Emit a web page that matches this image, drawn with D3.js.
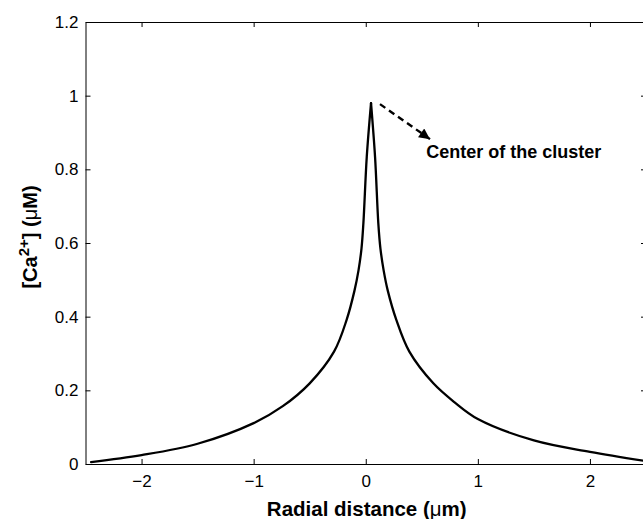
<!DOCTYPE html>
<html>
<head>
<meta charset="utf-8">
<script src="https://cdn.jsdelivr.net/npm/d3@7"></script>
<style>
  html, body { margin: 0; padding: 0; background: #fff; }
  svg { display: block; font-family: "Liberation Sans", Arial, Helvetica, sans-serif; }
</style>
</head>
<body>
<div id="chart"></div>
<script>
// radial Ca2+ profile around a channel cluster

// ── data ──
const radialDistance = [-2.45, -2.0, -1.5, -1.0, -0.74, -0.5, -0.283, -0.17, -0.101, -0.065, -0.038, -0.021, 0.009,
  0.047, 0.083, 0.112, 0.131, 0.16, 0.197, 0.272, 0.389, 0.603, 0.79, 1.0, 1.5, 2.0, 2.5];
const calcium = [0.005, 0.024, 0.055, 0.111, 0.157, 0.219, 0.305, 0.392, 0.470, 0.525, 0.585, 0.654, 0.834,
  0.98, 0.834, 0.654, 0.585, 0.525, 0.470, 0.392, 0.305, 0.219, 0.168, 0.122, 0.064, 0.033, 0.008];
const xTicks = [-2, -1, 0, 1, 2];
const yTicks = [0, 0.2, 0.4, 0.6, 0.8, 1, 1.2];
const arrowFrom = [0.127, 0.977];
const arrowTo = [0.573, 0.882];
const noteAt = [0.539, 0.83];
const noteText = "Center of the cluster";

const width = 643, height = 519;
const m = { left: 85.5, right: 646, top: 22, bottom: 464 };

const svg = d3.select("#chart").append("svg")
  .attr("width", width)
  .attr("height", height);

const x = d3.scaleLinear().domain([-2.5, 2.5]).range([m.left, m.right]);
const y = d3.scaleLinear().domain([0, 1.2]).range([m.bottom, m.top]);

const fmt = d => (d < 0 ? "\u2212" + Math.abs(d) : String(d));

// ── axes (MATLAB style box, ticks inward) ──
const gx = svg.append("g")
  .attr("transform", `translate(0,${m.bottom})`)
  .call(d3.axisBottom(x).tickValues(xTicks).tickFormat(fmt)
    .tickSizeInner(-5).tickSizeOuter(0).tickPadding(11));

const gy = svg.append("g")
  .attr("transform", `translate(${m.left},0)`)
  .call(d3.axisLeft(y).tickValues(yTicks).tickFormat(d => String(d))
    .tickSizeInner(-5).tickSizeOuter(0).tickPadding(7));

const gt = svg.append("g")
  .attr("transform", `translate(0,${m.top})`)
  .call(d3.axisTop(x).tickValues(xTicks).tickFormat("")
    .tickSizeInner(-5).tickSizeOuter(0));

const gr = svg.append("g")
  .attr("transform", `translate(${m.right},0)`)
  .call(d3.axisRight(y).tickValues(yTicks).tickFormat("")
    .tickSizeInner(-5).tickSizeOuter(0));

[gx, gy, gt, gr].forEach(g => {
  g.selectAll(".domain").attr("stroke", "#000").attr("stroke-width", 1);
  g.selectAll(".tick line").attr("stroke", "#000");
  g.selectAll(".tick text")
    .attr("fill", "#000")
    .style("font-size", "17px")
    .style("font-family", "'Liberation Sans', Arial, sans-serif");
});

// ── curve: two branches meeting at the sharp peak ──
const pts = radialDistance.map((d, i) => [d, calcium[i]]);
const peak = d3.maxIndex(calcium);
const branches = [pts.slice(0, peak + 1), pts.slice(peak)];

const line = d3.line()
  .x(d => x(d[0]))
  .y(d => y(d[1]))
  .curve(d3.curveCatmullRom.alpha(0.5));

svg.append("g")
  .selectAll("path")
  .data(branches)
  .join("path")
  .attr("fill", "none")
  .attr("stroke", "#000")
  .attr("stroke-width", 2.3)
  .attr("stroke-linecap", "round")
  .attr("d", line);

// ── annotation arrow ──
svg.append("defs").append("marker")
  .attr("id", "head")
  .attr("viewBox", "0 0 10 10")
  .attr("refX", 10).attr("refY", 5)
  .attr("markerWidth", 5.5).attr("markerHeight", 4.5)
  .attr("markerUnits", "strokeWidth")
  .attr("orient", "auto")
  .append("path")
  .attr("d", "M0,0L10,5L0,10Z")
  .attr("fill", "#000");

svg.append("line")
  .attr("x1", x(arrowFrom[0])).attr("y1", y(arrowFrom[1]))
  .attr("x2", x(arrowTo[0])).attr("y2", y(arrowTo[1]))
  .attr("stroke", "#000")
  .attr("stroke-width", 2.4)
  .attr("stroke-dasharray", "6.5,4.5")
  .attr("marker-end", "url(#head)");

svg.append("text")
  .attr("x", x(noteAt[0])).attr("y", y(noteAt[1]))
  .style("font-size", "18px")
  .style("font-weight", "bold")
  .text(noteText);

// ── axis labels ──
const xl = svg.append("text")
  .attr("x", (m.left + m.right) / 2 + 1)
  .attr("y", 516)
  .attr("text-anchor", "middle")
  .style("font-size", "20.5px")
  .style("font-weight", "bold");
xl.append("tspan").text("Radial distance (");
xl.append("tspan").style("font-weight", "normal").text("\u03bc");
xl.append("tspan").text("m)");

const yl = svg.append("text")
  .attr("transform", `translate(37,237) rotate(-90)`)
  .attr("text-anchor", "middle")
  .style("font-size", "20px")
  .style("font-weight", "bold");
yl.append("tspan").text("[Ca");
yl.append("tspan").attr("dy", -8).style("font-size", "15px").text("2+");
yl.append("tspan").attr("dy", 8).text("] (");
yl.append("tspan").style("font-weight", "normal").text("\u03bc");
yl.append("tspan").text("M)");
</script>
</body>
</html>
